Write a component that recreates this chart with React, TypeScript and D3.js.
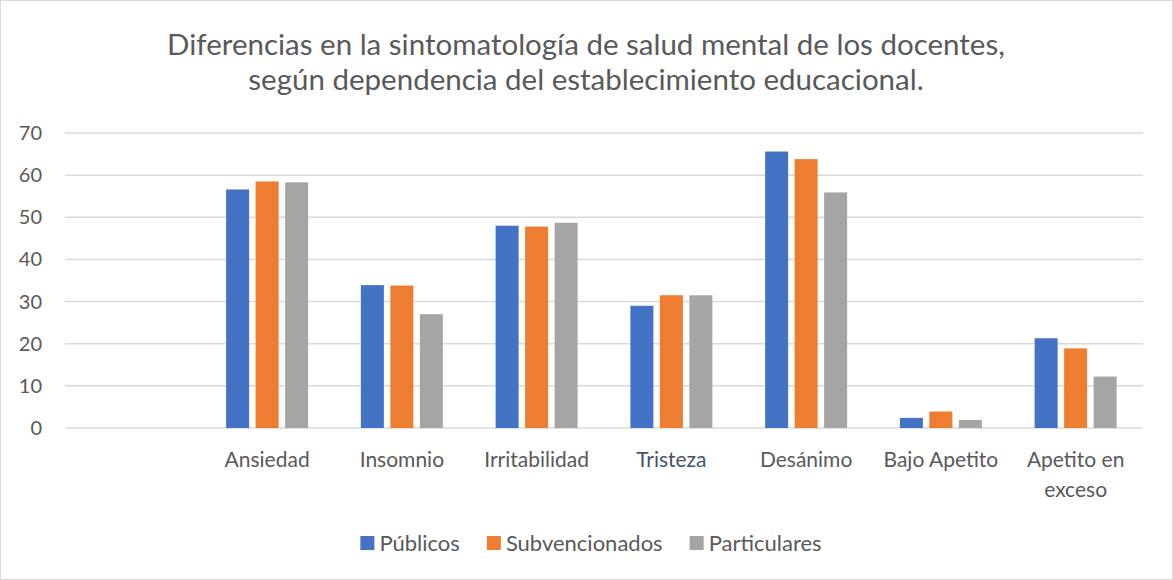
import React, { useEffect, useRef } from "react";
import * as d3 from "d3";

const categories = ["", "Ansiedad", "Insomnio", "Irritabilidad", "Tristeza", "Desánimo", "Bajo Apetito", "Apetito en exceso"];
const seriesNames = ["Públicos", "Subvencionados", "Particulares"];
const publicos = [null, 56.6, 33.9, 48.0, 29.0, 65.6, 2.4, 21.3];
const subvencionados = [null, 58.5, 33.8, 47.8, 31.5, 63.8, 3.9, 18.9];
const particulares = [null, 58.3, 27.0, 48.7, 31.5, 55.9, 1.9, 12.2];
const yTicks = [0, 10, 20, 30, 40, 50, 60, 70];
const titleLines = [
  "Diferencias en la sintomatología de salud mental de los docentes,",
  "según dependencia del establecimiento educacional.",
];

const colors = ["#4472C4", "#ED7D31", "#A5A5A5"];
const FONT = "Lato, 'Open Sans', sans-serif";
const TEXT = "#595959";

export default function App() {
  const ref = useRef<SVGSVGElement>(null);

  useEffect(() => {
    const width = 1173;
    const height = 580;
    const svg = d3.select(ref.current);
    svg.selectAll("*").remove();
    svg.attr("width", width).attr("height", height).style("font-family", FONT);

    svg.append("rect")
      .attr("x", 0.5).attr("y", 0.5)
      .attr("width", width - 1).attr("height", height - 1)
      .attr("fill", "#fff").attr("stroke", "#d9d9d9");

    // title
    svg.append("g")
      .selectAll("text")
      .data(titleLines)
      .join("text")
      .attr("x", 586)
      .attr("y", (d, i) => 55 + i * 35)
      .attr("text-anchor", "middle")
      .attr("font-size", 29.5)
      .attr("fill", TEXT)
      .text(d => d);

    const x = d3.scaleBand().domain(categories).range([65, 1143]);
    const inner = d3.scaleBand()
      .domain(seriesNames)
      .range([(x.bandwidth() - 82) / 2, (x.bandwidth() + 82) / 2])
      .paddingInner(0.22);
    const y = d3.scaleLinear().domain([0, 70]).range([428, 133]);

    // grid
    svg.append("g")
      .selectAll("line")
      .data(yTicks)
      .join("line")
      .attr("x1", 65).attr("x2", 1143)
      .attr("y1", d => y(d)).attr("y2", d => y(d))
      .attr("stroke", "#d9d9d9")
      .attr("stroke-width", 1.5);

    svg.append("g")
      .selectAll("text")
      .data(yTicks)
      .join("text")
      .attr("x", 42)
      .attr("y", d => y(d))
      .attr("dy", "0.35em")
      .attr("text-anchor", "end")
      .attr("font-size", 20)
      .attr("fill", TEXT)
      .text(d => d);

    const series = [publicos, subvencionados, particulares];
    const bars = svg.append("g");
    series.forEach((vals, si) => {
      bars.append("g")
        .selectAll("rect")
        .data(categories.map((c, i) => ({ c, v: vals[i] })).filter(d => d.v != null))
        .join("rect")
        .attr("x", d => (x(d.c) ?? 0) + (inner(seriesNames[si]) ?? 0))
        .attr("y", d => y(d.v as number))
        .attr("width", inner.bandwidth())
        .attr("height", d => y(0) - y(d.v as number))
        .attr("fill", colors[si]);
    });

    // category labels, wrapped when too wide
    const labels = svg.append("g");
    categories.forEach(c => {
      if (!c) return;
      const t = labels.append("text")
        .attr("x", (x(c) ?? 0) + x.bandwidth() / 2)
        .attr("y", 467)
        .attr("text-anchor", "middle")
        .attr("font-size", 21)
        .attr("fill", c === "Tristeza" ? "#44546A" : TEXT)
        .text(c);
      const node = t.node() as SVGTextElement;
      if (node.getComputedTextLength() > x.bandwidth() - 4) {
        const words = c.split(" ");
        const first = words.slice(0, -1).join(" ");
        const last = words[words.length - 1];
        t.text(null);
        [first, last].forEach((w, i) => {
          t.append("tspan")
            .attr("x", (x(c) ?? 0) + x.bandwidth() / 2)
            .attr("y", 467 + i * 30)
            .text(w);
        });
      }
    });

    // legend
    const legend = svg.append("g");
    const items = seriesNames.map((name, i) => {
      const g = legend.append("g");
      g.append("rect").attr("width", 14).attr("height", 14).attr("y", -7).attr("fill", colors[i]);
      const t = g.append("text")
        .attr("x", 19)
        .attr("dy", "0.35em")
        .attr("font-size", 22)
        .attr("fill", TEXT)
        .text(name);
      return { g, w: 19 + (t.node() as SVGTextElement).getComputedTextLength() };
    });
    const gap = 27;
    const total = d3.sum(items, d => d.w) + gap * (items.length - 1);
    let cx = 591 - total / 2;
    items.forEach(it => {
      it.g.attr("transform", `translate(${cx},543)`);
      cx += it.w + gap;
    });
  }, []);

  return <svg ref={ref} style={{ position: "absolute", left: 0, top: 0 }}></svg>;
}
